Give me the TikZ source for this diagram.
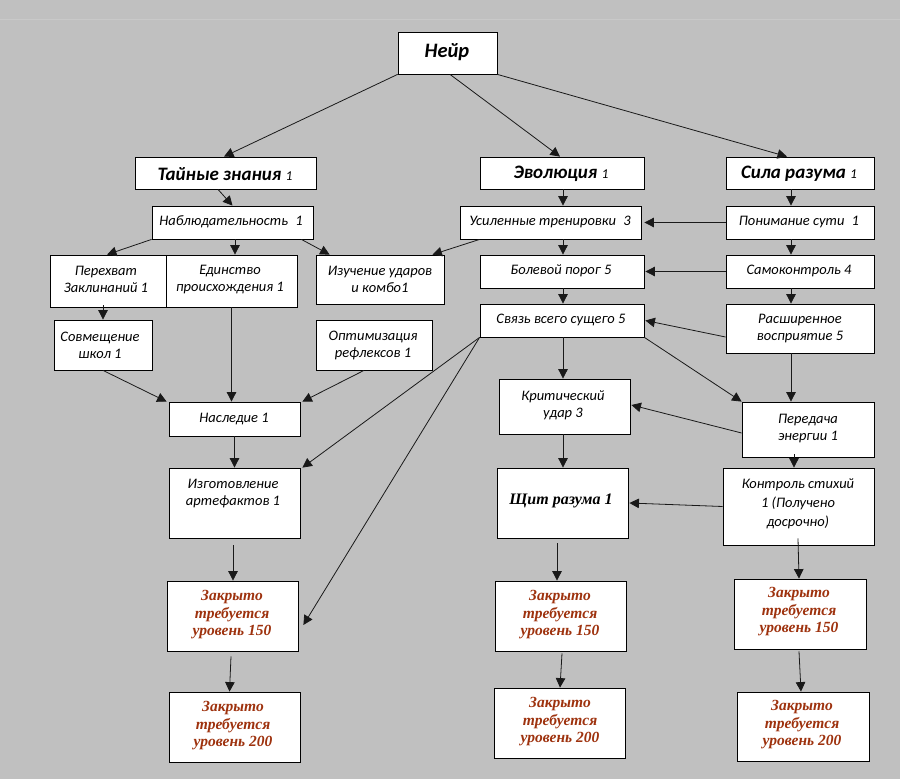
\documentclass[tikz,border=0pt]{standalone}
\usepackage{fontspec}
\setmainfont{Carlito}
\newfontfamily\tnr{Liberation Serif}
\newfontfamily\smallit{Carlito}[UprightFont=*-Italic, FakeBold=0.35]
\usetikzlibrary{arrows.meta,calc}
\definecolor{bg}{HTML}{C0C0C0}
\definecolor{bgline}{HTML}{C9C9C9}
\definecolor{lock}{RGB}{158,50,14}
\tikzset{
  box/.style={draw=black, fill=white, line width=0.8pt, inner sep=0pt},
  txt/.style={align=center, inner sep=0pt, text=black, font=\itshape\fontsize{14.5}{17}\selectfont},
  hdr/.style={align=center, inner sep=0pt, text=black, font=\bfseries\itshape\fontsize{19}{22}\selectfont},
  locktxt/.style={align=center, inner sep=0pt, text=lock, font=\tnr\bfseries\itshape\fontsize{15.5}{17.5}\selectfont},
  arr/.style={draw=black!90, line width=0.8pt, -{Triangle[length=9.5pt,width=9.5pt]}},
}
\newcommand\one{{\mdseries\fontsize{13.5}{15}\selectfont 1}}
\begin{document}
\begin{tikzpicture}[x=1pt,y=-1pt]
\path[fill=bg] (0,0) rectangle (900,779);
\useasboundingbox (0,0) rectangle (900,779);
\draw[bgline, line width=1pt] (0,19) -- (900,19);

% boxes
\node[box, minimum width=99pt,  minimum height=42pt] (neir)   at (447.5,53) {};
\node[box, minimum width=181pt, minimum height=32pt] (tain)   at (225.5,173) {};
\node[box, minimum width=164pt, minimum height=32pt] (evol)   at (562,173) {};
\node[box, minimum width=148pt, minimum height=32pt] (sila)   at (800,173) {};
\node[box, minimum width=161pt, minimum height=33pt] (nabl)   at (232.5,222.5) {};
\node[box, minimum width=181pt, minimum height=33pt] (usil)   at (550.5,222.5) {};
\node[box, minimum width=148pt, minimum height=33pt] (pon)    at (800,222.5) {};
\node[box, minimum width=116pt, minimum height=52pt] (pere)   at (108,281) {};
\node[box, minimum width=131pt, minimum height=52pt] (edin)   at (231.5,281) {};
\node[box, minimum width=128pt, minimum height=49pt] (izuch)  at (380,279.5) {};
\node[box, minimum width=164pt, minimum height=33pt] (bol)    at (562,271.5) {};
\node[box, minimum width=148pt, minimum height=33pt] (samo)   at (800,271.5) {};
\node[box, minimum width=98pt,  minimum height=50pt] (sovm)   at (103,345) {};
\node[box, minimum width=116pt, minimum height=50pt] (opt)    at (374,345) {};
\node[box, minimum width=164pt, minimum height=33pt] (svyaz)  at (562,320.5) {};
\node[box, minimum width=148pt, minimum height=49pt] (rassh)  at (800,328.5) {};
\node[box, minimum width=131pt, minimum height=34pt] (nasl)   at (234.5,419) {};
\node[box, minimum width=131pt, minimum height=55pt] (krit)   at (564.5,406.5) {};
\node[box, minimum width=132pt, minimum height=55pt] (pered)  at (808,429.5) {};
\node[box, minimum width=131pt, minimum height=70pt] (izg)    at (234.5,503) {};
\node[box, minimum width=131pt, minimum height=70pt] (shchit) at (562.5,503) {};
\node[box, minimum width=151pt, minimum height=77pt] (kontr)  at (798.5,506.5) {};
\node[box, minimum width=131pt, minimum height=70pt] (zla)    at (232.5,616) {};
\node[box, minimum width=131pt, minimum height=70pt] (zlb)    at (560.5,616) {};
\node[box, minimum width=132pt, minimum height=70pt] (zlc)    at (800,614) {};
\node[box, minimum width=131pt, minimum height=70pt] (zha)    at (234.5,727) {};
\node[box, minimum width=131pt, minimum height=70pt] (zhb)    at (559.5,723) {};
\node[box, minimum width=132pt, minimum height=69pt] (zhc)    at (803,726.5) {};

% texts
\node[hdr, font=\bfseries\itshape\fontsize{20.5}{24}\selectfont] (tneir) at (447,52) {Нейр};
\node[hdr] (ttain) at (225,174) {Тайные знания \one};
\node[hdr] (tevol) at (561,174) {Эволюция \one};
\node[hdr] (tsila) at (799,174) {Сила разума \one};
\node[txt] (tnabl) at (231,221.5) {Наблюдательность\hspace{0.5em}1};
\node[txt] (tusil) at (550,222) {Усиленные тренировки\hspace{0.5em}3};
\node[txt] (tpon)  at (799,222) {Понимание сути\hspace{0.5em}1};
\node[txt] (tpere) at (106,279.5) {Перехват\\Заклинаний 1};
\node[txt] (tedin) at (230,279.5) {Единство\\происхождения 1};
\node[txt] (tizuch) at (380,279.5) {Изучение ударов\\и комбо1};
\node[txt] (tbol)  at (561,271) {Болевой порог 5};
\node[txt] (tsamo) at (799,271) {Самоконтроль 4};
\node[txt] (tsovm) at (100,345) {Совмещение\\школ 1};
\node[txt] (topt)  at (373,345) {Оптимизация\\рефлексов 1};
\node[txt] (tsvyaz) at (561,320) {Связь всего сущего 5};
\node[txt] (trassh) at (800,328.5) {Расширенное\\восприятие 5};
\node[txt] (tnasl) at (234,419) {Наследие 1};
\node[txt] (tkrit) at (563,405.5) {Критический\\удар 3};
\node[txt] (tpered) at (808,428.5) {Передача\\энергии 1};
\node[txt] (tizg) at (233,494) {Изготовление\\артефактов 1};
\node[txt, font=\tnr\bfseries\itshape\fontsize{16}{19}\selectfont] (tshchit) at (561,501) {Щит разума 1};
\node[txt, font=\itshape\fontsize{14.5}{19}\selectfont] (tkontr) at (798,504) {Контроль стихий\\1 (Получено\\досрочно)};
\node[locktxt] (tzla) at (232,615) {Закрыто\\требуется\\уровень 150};
\node[locktxt] (tzlb) at (560,615) {Закрыто\\требуется\\уровень 150};
\node[locktxt] (tzlc) at (799,612) {Закрыто\\требуется\\уровень 150};
\node[locktxt] (tzha) at (233,726) {Закрыто\\требуется\\уровень 200};
\node[locktxt] (tzhb) at (560,722) {Закрыто\\требуется\\уровень 200};
\node[locktxt] (tzhc) at (802,725) {Закрыто\\требуется\\уровень 200};

% connectors
\draw[arr] (neir.south west) -- ([xshift=-1.5pt]tain.north);
\draw[arr] ([xshift=2.5pt]neir.south) -- ([xshift=-2pt]evol.north);
\draw[arr] (neir.south east) -- ([xshift=-13pt]sila.north);
\draw[arr] ([xshift=-7.5pt]tain.south) -- (nabl.north);
\draw[arr] (nabl.south west) -- ([xshift=-1pt]pere.north);
\draw[arr] ([xshift=2.5pt]nabl.south) -- ([xshift=3.5pt]edin.north);
\draw[arr] ([xshift=-12pt]nabl.south east) -- ([xshift=14pt]izuch.north west);
\draw[arr] ([xshift=20pt]usil.south west) -- ([xshift=-12pt]izuch.north east);
\draw[arr] ([xshift=-5pt,yshift=2pt]pere.south) -- (sovm.north);
\draw[arr] (edin.south) -- ([xshift=-3pt]nasl.north);
\draw[arr] (sovm.south) -- ([xshift=-2pt]nasl.north west);
\draw[arr] ([xshift=-10pt]opt.south) -- ([xshift=2pt]nasl.north east);
\draw[arr] (svyaz.south west) -- ([xshift=2pt]izg.north east);
\draw[arr] (svyaz.south west) -- ([xshift=5pt,yshift=-9pt]zla.east);
\draw[arr] (nasl.south) -- (izg.north);
\draw[arr] ([xshift=-1.5pt,yshift=-7pt]izg.south) -- ([xshift=0.5pt]zla.north);
\draw[arr] ([xshift=-1.5pt,yshift=-5pt]zla.south) -- ([xshift=-5pt]zha.north);
\draw[arr] ([xshift=1pt]evol.south) -- ([xshift=12.5pt]usil.north);
\draw[arr] ([xshift=-9pt]sila.south) -- ([xshift=-9pt]pon.north);
\draw[arr] (pon.west) -- ([xshift=3pt]usil.east);
\draw[arr] ([xshift=12.5pt]usil.south) -- ([xshift=1pt]bol.north);
\draw[arr] ([xshift=-9pt]pon.south) -- ([xshift=-9pt]samo.north);
\draw[arr] (samo.west) -- ([xshift=1pt]bol.east);
\draw[arr] ([xshift=1pt]bol.south) -- ([xshift=1pt]svyaz.north);
\draw[arr] ([xshift=-9pt]samo.south) -- ([xshift=-9pt]rassh.north);
\draw[arr] ([yshift=-8.5pt]rassh.west) -- ([xshift=1pt]svyaz.east);
\draw[arr] ([xshift=1pt]svyaz.south) -- ([xshift=-1.5pt]krit.north);
\draw[arr] (svyaz.south east) -- (pered.north west);
\draw[arr] ([xshift=-9pt]rassh.south) -- ([xshift=-17pt]pered.north);
\draw[arr] ([yshift=-3.5pt]pered.west) -- ([xshift=1pt,yshift=1.5pt]krit.east);
\draw[arr] ([xshift=-1.5pt]krit.south) -- ([xshift=0.5pt]shchit.north);
\draw[arr] ([xshift=-14pt,yshift=3pt]pered.south) -- ([xshift=-4.5pt]kontr.north);
\draw[arr] (kontr.west) -- ([xshift=1pt]shchit.east);
\draw[arr] ([xshift=-5.5pt,yshift=-5pt]shchit.south) -- ([xshift=-3.5pt]zlb.north);
\draw[arr] ([xshift=1.5pt,yshift=-2pt]zlb.south) -- ([xshift=0.5pt]zhb.north);
\draw[arr] ([xshift=-0.5pt,yshift=7pt]kontr.south) -- ([xshift=-1pt]zlc.north);
\draw[arr] ([xshift=-1pt,yshift=-2pt]zlc.south) -- ([xshift=-2pt]zhc.north);
\end{tikzpicture}
\end{document}
